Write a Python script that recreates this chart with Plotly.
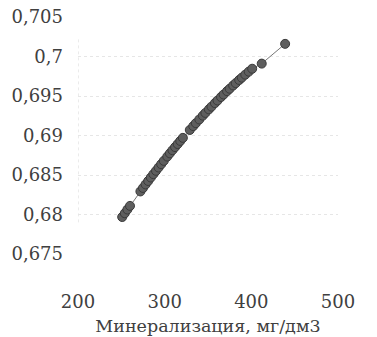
import plotly.graph_objects as go

mineral = [251, 254, 257, 260,
           272, 275, 278, 281, 284, 287, 290, 293, 296, 299, 303, 306, 309, 312, 315, 318, 321,
           329, 333, 336, 340, 344, 347, 351, 354, 358, 361, 365, 368, 372, 375, 379, 382, 386,
           389, 393, 397, 401, 412, 439]
ratio = [0.67968, 0.68016, 0.68063, 0.68109,
         0.68292, 0.68336, 0.68381, 0.68424, 0.68468, 0.68511, 0.68553, 0.68595, 0.68637,
         0.68679, 0.68733, 0.68774, 0.68814, 0.68853, 0.68892, 0.68931, 0.68970,
         0.69070, 0.69119, 0.69156, 0.69203, 0.69251, 0.69286, 0.69331, 0.69365, 0.69410,
         0.69443, 0.69487, 0.69519, 0.69561, 0.69592, 0.69633, 0.69663, 0.69703, 0.69732,
         0.69770, 0.69808, 0.69845, 0.69910, 0.70160]

x_ticks = [200, 300, 400, 500]
y_ticks = [0.675, 0.68, 0.685, 0.69, 0.695, 0.7, 0.705]
y_labels = ["0,675", "0,68", "0,685", "0,69", "0,695", "0,7", "0,705"]
x_title = "Минерализация, мг/дм3"

font = dict(family="'DejaVu Serif', serif", size=18, color="#404040")

fig = go.Figure(go.Scatter(
    x=mineral, y=ratio, mode="lines+markers",
    line=dict(color="#777777", width=1),
    marker=dict(size=9, color="#5e5e5e", line=dict(color="#3a3a3a", width=1)),
    showlegend=False,
))

fig.add_shape(type="line", x0=200, x1=200, y0=0.679, y1=0.7025, xref="x", yref="y",
              line=dict(color="#d8d8d8", width=1, dash="dot"), layer="below")

fig.update_layout(
    width=377, height=337,
    margin=dict(l=70, r=47, t=9, b=91),
    paper_bgcolor="white", plot_bgcolor="white",
    font=font,
)
fig.update_xaxes(range=[200, 500], tickvals=x_ticks, ticktext=[str(v) for v in x_ticks],
                 showgrid=False, zeroline=False, showline=False, ticks="",
                 ticklabelstandoff=35, automargin=False, ticklabeloverflow="allow",
                 title=dict(text=x_title, font=dict(size=17.5), standoff=8))
fig.update_yaxes(range=[0.675, 0.705], tickvals=y_ticks, ticktext=y_labels,
                 showgrid=True, gridcolor="#e6e6e6", griddash="dot", gridwidth=1,
                 zeroline=False, showline=False, ticks="", ticklabelstandoff=14,
                 automargin=False, ticklabeloverflow="allow")

fig.write_html("out.html")
